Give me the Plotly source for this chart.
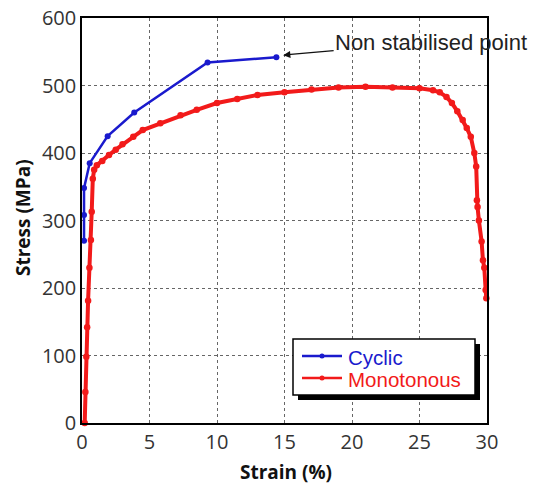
import plotly.graph_objects as go

# Data
cyclic_strain = [0.15, 0.15, 0.15, 0.57, 1.9, 3.87, 9.3, 14.4]
cyclic_stress = [270, 308, 348, 385, 425, 460, 534, 542]

mono_strain = [0.2, 0.25, 0.32, 0.38, 0.45, 0.55, 0.66, 0.72, 0.8, 0.9, 1.1, 1.5, 2.0, 2.5,
               3.0, 3.8, 4.5, 5.8, 7.3, 8.5, 10, 11.5, 13, 15, 17, 19, 21, 23, 25, 26,
               26.5, 27.0, 27.4, 27.8, 28.2, 28.5, 28.8, 29.06, 29.2, 29.25, 29.3, 29.4,
               29.6, 29.7, 29.8, 29.9, 29.95]
mono_stress = [0, 46, 98, 142, 181, 230, 271, 313, 362, 375, 382, 388, 397, 405,
               413, 424, 434, 444, 456, 464, 474, 480, 486, 490, 494, 497, 498, 497, 496, 493,
               490, 483, 474, 462, 449, 437, 424, 400, 380, 330, 320, 300,
               269, 241, 230, 197, 185]

x_ticks = [0, 5, 10, 15, 20, 25, 30]
y_ticks = [0, 100, 200, 300, 400, 500, 600]
series_names = ["Cyclic", "Monotonous"]
x_title = "Strain (%)"
y_title = "Stress (MPa)"

BLUE = "#1a1acd"
RED = "#f21a1a"
colors = [BLUE, RED]

L, R, T, B = 82, 48, 18, 68
W, H = 535, 491
PW, PH = W - L - R, H - T - B


def px(xp):
    return (xp - L) / PW


def py(yp):
    return (H - B - yp) / PH


fig = go.Figure()
fig.add_trace(go.Scatter(
    x=cyclic_strain, y=cyclic_stress, mode="lines+markers", name=series_names[0],
    line=dict(color=BLUE, width=2.5), marker=dict(color=BLUE, size=6),
    cliponaxis=False))
fig.add_trace(go.Scatter(
    x=mono_strain, y=mono_stress, mode="lines+markers", name=series_names[1],
    line=dict(color=RED, width=4), marker=dict(color=RED, size=6.5),
    cliponaxis=False))

# manual legend with drop shadow
fig.add_shape(type="rect", xref="paper", yref="paper",
              x0=px(298), x1=px(480), y0=py(400), y1=py(344),
              fillcolor="black", line=dict(width=0), layer="above")
fig.add_shape(type="rect", xref="paper", yref="paper",
              x0=px(293), x1=px(475), y0=py(395), y1=py(339),
              fillcolor="white", line=dict(color="black", width=1.5), layer="above")
for i, (name, c) in enumerate(zip(series_names, colors)):
    yy = 356 + i * 22
    fig.add_shape(type="line", xref="paper", yref="paper",
                  x0=px(302), x1=px(342), y0=py(yy), y1=py(yy),
                  line=dict(color=c, width=2.5), layer="above")
    fig.add_shape(type="circle", xref="paper", yref="paper",
                  x0=px(319.5), x1=px(324.5), y0=py(yy + 2.5), y1=py(yy - 2.5),
                  fillcolor=c, line=dict(color=c, width=0), layer="above")
    fig.add_annotation(x=px(346), y=py(yy + 1), xref="paper", yref="paper",
                       xanchor="left", yanchor="middle", showarrow=False, text=name,
                       font=dict(family="Liberation Sans, Arial", size=20.5, color=c))

fig.add_annotation(x=14.9, y=545, xref="x", yref="y",
                   text="Non stabilised point", showarrow=True,
                   ax=148, ay=-13, arrowhead=2, arrowsize=1.2, arrowwidth=1.2,
                   arrowcolor="#111",
                   font=dict(family="Liberation Sans, Arial", size=22, color="#222"))

# axis titles
fig.add_annotation(x=px(286), y=py(472), xref="paper", yref="paper",
                   xanchor="center", yanchor="middle", showarrow=False,
                   text=f"<b>{x_title}</b>",
                   font=dict(family="Open Sans", size=19, color="#111"))
fig.add_annotation(x=px(23), y=py(218), xref="paper", yref="paper",
                   xanchor="center", yanchor="middle", showarrow=False, textangle=-90,
                   text=f"<b>{y_title}</b>",
                   font=dict(family="Open Sans", size=19, color="#111"))

axis_common = dict(showline=True, linecolor="black", linewidth=1.5, mirror=True,
                   showgrid=True, gridcolor="#666", griddash="dot", gridwidth=1,
                   zeroline=False, ticks="", automargin=False,
                   tickfont=dict(family="Open Sans", size=20, color="#333"))

fig.update_layout(
    width=W, height=H,
    margin=dict(l=L, r=R, t=T, b=B),
    paper_bgcolor="white", plot_bgcolor="white",
    showlegend=False,
    xaxis=dict(range=[0, 30], tickvals=x_ticks, **axis_common),
    yaxis=dict(range=[0, 600], tickvals=y_ticks, **axis_common),
)

fig.write_html("out.html")
